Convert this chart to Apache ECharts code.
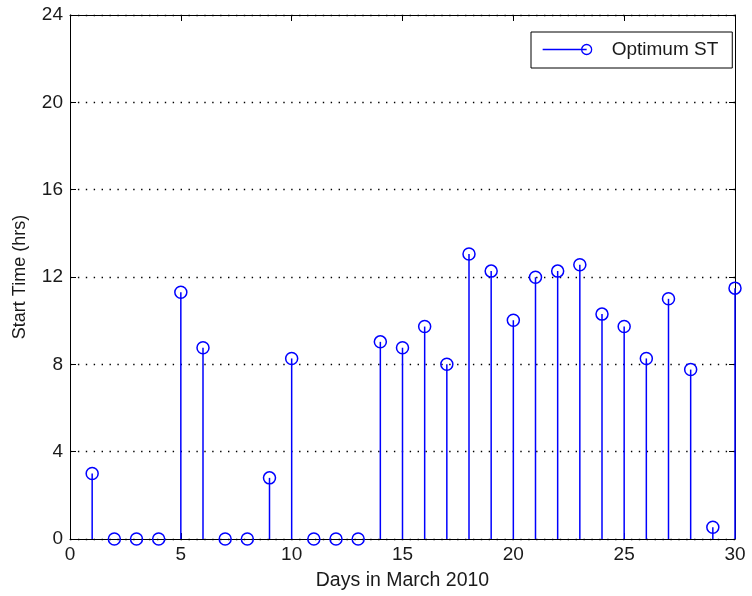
<!DOCTYPE html>
<html><head><meta charset="utf-8">
<script src="https://cdn.jsdelivr.net/npm/echarts@6/dist/echarts.min.js"></script>
<style>html,body{margin:0;padding:0;background:#fff}#c{width:752px;height:596px}</style>
</head><body><div id="c"></div>
<script>
const days = [1,2,3,4,5,6,7,8,9,10,11,12,13,14,15,16,17,18,19,20,21,22,23,24,25,26,27,28,29,30];
const startTime = [3.0,0,0,0,11.3,8.76,0,0,2.8,8.27,0,0,0,9.03,8.76,9.73,8.0,13.05,12.27,10.02,11.99,12.27,12.56,10.3,9.73,8.27,11.0,7.76,0.54,11.49];
const xTicks = [0,5,10,15,20,25,30];
const yTicks = [0,4,8,12,16,20,24];
const seriesName = 'Optimum ST';
const points = days.map((d,i)=>[d,startTime[i]]);
const blue = '#0000ff';
const font = 'Liberation Sans, Arial, sans-serif';
const txt = '#1a1a1a';
const chart = echarts.init(document.getElementById('c'));
chart.setOption({
  animation:false,
  backgroundColor:'#fff',
  grid:{left:70,right:17,top:15,bottom:57,containLabel:false},
  legend:{
    data:[{name:seriesName,icon:'path://M0,5 L44,5 M39,5 a5,5 0 1,0 10,0 a5,5 0 1,0 -10,0'}],
    left:531, top:32,
    itemWidth:49, itemHeight:10,
    itemGap:0,
    itemStyle:{color:'transparent',borderColor:blue,borderWidth:1.3},
    textStyle:{fontFamily:font,fontSize:19,color:txt,padding:[0,0,0,15]},
    borderColor:'#000',borderWidth:1,backgroundColor:'#fff',
    padding:[8,14,9,11], borderRadius:0
  },
  xAxis:[{
    type:'value',min:0,max:30,interval:5,
    name:'Days in March 2010',nameLocation:'middle',nameGap:32,
    nameTextStyle:{fontFamily:font,fontSize:19.5,color:txt},
    axisLine:{show:true,onZero:false,lineStyle:{color:'#000',width:1}},
    axisTick:{show:true,inside:true,length:6,lineStyle:{color:'#000'}},
    axisLabel:{fontFamily:font,fontSize:19,color:txt,margin:6,formatter:v=>xTicks.includes(v)?String(v):''},
    splitLine:{show:false}
  },{
    type:'value',min:0,max:30,interval:5,position:'top',
    axisLine:{show:true,onZero:false,lineStyle:{color:'#000'}},
    axisTick:{show:true,inside:true,length:6,lineStyle:{color:'#000'}},
    axisLabel:{show:false},splitLine:{show:false}
  }],
  yAxis:[{
    type:'value',min:0,max:24,interval:4,
    name:'Start Time (hrs)',nameLocation:'middle',nameGap:41,
    nameTextStyle:{fontFamily:font,fontSize:18,color:txt},
    axisLine:{show:true,onZero:false,lineStyle:{color:'#000',width:1}},
    axisTick:{show:true,inside:true,length:6,lineStyle:{color:'#000'}},
    axisLabel:{fontFamily:font,fontSize:19,color:txt,margin:7,formatter:v=>yTicks.includes(v)?String(v):''},
    splitLine:{show:true,lineStyle:{color:'#000',type:[1.4,6.5],width:1.4}}
  },{
    type:'value',min:0,max:24,interval:4,position:'right',
    axisLine:{show:true,onZero:false,lineStyle:{color:'#000'}},
    axisTick:{show:true,inside:true,length:6,lineStyle:{color:'#000'}},
    axisLabel:{show:false},splitLine:{show:false}
  }],
  series:[{
    type:'custom',
    name:'stems',
    clip:false,
    renderItem:function(params,api){
      const x=api.value(0), y=api.value(1);
      const p0=api.coord([x,0]), p1=api.coord([x,y]);
      return {type:'line',shape:{x1:p0[0],y1:p0[1],x2:p1[0],y2:p1[1]},style:{stroke:blue,lineWidth:1.5}};
    },
    encode:{x:0,y:1},
    data:points,z:2
  },{
    type:'scatter',
    name:seriesName,
    data:points,
    symbol:'circle',symbolSize:12,
    clip:false,
    itemStyle:{color:'transparent',borderColor:blue,borderWidth:1.5,opacity:1},
    z:3
  }]
});
</script></body></html>
